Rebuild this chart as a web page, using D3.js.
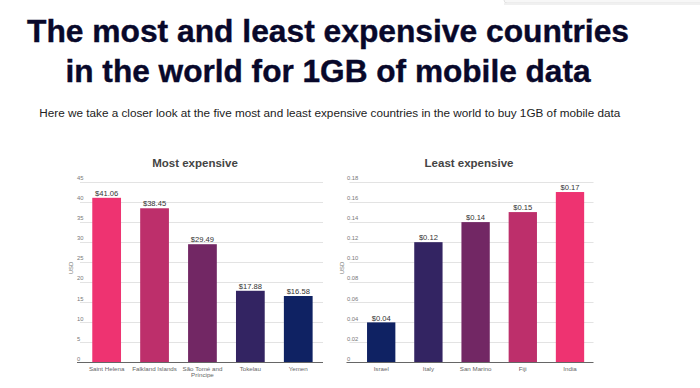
<!DOCTYPE html>
<html>
<head>
<meta charset="utf-8">
<script src="https://cdn.jsdelivr.net/npm/d3@7"></script>
<style>
    html, body { margin: 0; padding: 0; background: #fff; }
    svg { display: block; font-family: 'Liberation Sans', Arial, sans-serif; }
</style>
</head>
<body>
<svg id="chart" width="700" height="388"></svg>
<script>
const titleLines = [`The most and least expensive countries`, `in the world for 1GB of mobile data`];
const subtitle = `Here we take a closer look at the five most and least expensive countries in the world to buy 1GB of mobile data`;

const mostCountries = [`Saint Helena`, `Falkland Islands`, `São Tomé and|Príncipe`, `Tokelau`, `Yemen`];
const mostValues = [41.06, 38.45, 29.49, 17.88, 16.58];
const mostTicks = [0, 5, 10, 15, 20, 25, 30, 35, 40, 45];
const mostTickLabels = [`0`, `5`, `10`, `15`, `20`, `25`, `30`, `35`, `40`, `45`];

const leastCountries = [`Israel`, `Italy`, `San Marino`, `Fiji`, `India`];
const leastValues = [0.04, 0.12, 0.14, 0.15, 0.17];
const leastTicks = [0, 0.02, 0.04, 0.06, 0.08, 0.10, 0.12, 0.14, 0.16, 0.18];
const leastTickLabels = [`0`, `0.02`, `0.04`, `0.06`, `0.08`, `0.10`, `0.12`, `0.14`, `0.16`, `0.18`];

const palette = [`#ee3371`, `#bd2f6b`, `#722764`, `#332462`, `#0f2263`];

const svg = d3.select(`#chart`);

// faint box at top right
svg.append(`rect`)
    .attr(`x`, 504).attr(`y`, -20)
    .attr(`width`, 220).attr(`height`, 23)
    .attr(`rx`, 3)
    .attr(`fill`, `#f7f7f7`)
    .attr(`stroke`, `#e2e2e2`);
svg.append(`rect`)
    .attr(`x`, 504).attr(`y`, 3)
    .attr(`width`, 200).attr(`height`, 2)
    .attr(`fill`, `#f0f0f0`);
svg.append(`rect`)
    .attr(`x`, 588).attr(`y`, 18.5)
    .attr(`width`, 5).attr(`height`, 1.5)
    .attr(`fill`, `#999`);

// title
svg.selectAll(`.title`)
    .data(titleLines)
    .enter()
    .append(`text`)
    .attr(`class`, `title`)
    .attr(`x`, 328)
    .attr(`y`, (d, i) => 41.5 + i * 40)
    .attr(`text-anchor`, `middle`)
    .attr(`font-size`, 31)
    .attr(`font-weight`, `bold`)
    .attr(`fill`, `#08082a`)
    .attr(`stroke`, `#08082a`)
    .attr(`stroke-width`, 0.4)
    .attr(`textLength`, (d, i) => i === 0 ? 602 : 525)
    .attr(`lengthAdjust`, `spacingAndGlyphs`)
    .text(d => d);

svg.append(`text`)
    .attr(`x`, 329.8)
    .attr(`y`, 116.5)
    .attr(`text-anchor`, `middle`)
    .attr(`font-size`, 10)
    .attr(`fill`, `#222`)
    .attr(`textLength`, 581)
    .attr(`lengthAdjust`, `spacingAndGlyphs`)
    .text(subtitle);

const drawChart = (opts) => {
    const g = svg.append(`g`);

    const y = d3.scaleLinear()
        .domain([0, opts.ticks[opts.ticks.length - 1]])
        .range([362.5, 182]);

    const x = d3.scaleBand()
        .domain(opts.countries)
        .range(opts.bandRange)
        .paddingInner(0.4)
        .paddingOuter(0.2);

    g.append(`text`)
        .attr(`x`, opts.titleX)
        .attr(`y`, 166.5)
        .attr(`text-anchor`, `middle`)
        .attr(`font-size`, 11.5)
        .attr(`font-weight`, `bold`)
        .attr(`fill`, `#444`)
        .text(opts.title);

    // gridlines
    g.selectAll(`.grid`)
        .data(opts.ticks.slice(1))
        .enter()
        .append(`line`)
        .attr(`x1`, opts.gridRange[0])
        .attr(`x2`, opts.gridRange[1])
        .attr(`y1`, d => Math.round(y(d)) + 0.5)
        .attr(`y2`, d => Math.round(y(d)) + 0.5)
        .attr(`stroke`, `#e3e3e3`)
        .attr(`stroke-width`, 1);

    // tick labels sit above their gridline, left aligned
    g.selectAll(`.tick-label`)
        .data(opts.ticks)
        .enter()
        .append(`text`)
        .attr(`x`, opts.labelX)
        .attr(`y`, d => y(d) - 1.8)
        .attr(`font-size`, 5.8)
        .attr(`fill`, `#777`)
        .text((d, i) => opts.tickLabels[i]);

    g.append(`text`)
        .attr(`transform`, `translate(${opts.usdX}, 268) rotate(-90)`)
        .attr(`text-anchor`, `middle`)
        .attr(`font-size`, 6)
        .attr(`fill`, `#777`)
        .text(`USD`);

    g.selectAll(`.bar`)
        .data(opts.values)
        .enter()
        .append(`rect`)
        .attr(`x`, (d, i) => x(opts.countries[i]))
        .attr(`y`, d => y(d))
        .attr(`width`, x.bandwidth())
        .attr(`height`, d => y(0) - y(d))
        .attr(`fill`, (d, i) => opts.colors[i]);

    g.selectAll(`.value`)
        .data(opts.values)
        .enter()
        .append(`text`)
        .attr(`x`, (d, i) => x(opts.countries[i]) + x.bandwidth() / 2)
        .attr(`y`, d => y(d) - 1.8)
        .attr(`text-anchor`, `middle`)
        .attr(`font-size`, 7.6)
        .attr(`fill`, `#333`)
        .text(d => `$${d.toFixed(2)}`);

    // x axis baseline
    g.append(`line`)
        .attr(`x1`, opts.gridRange[0] - 3)
        .attr(`x2`, opts.gridRange[1])
        .attr(`y1`, 362.5)
        .attr(`y2`, 362.5)
        .attr(`stroke`, `#666`)
        .attr(`stroke-width`, 1);

    const xLabels = g.selectAll(`.x-label`)
        .data(opts.countries)
        .enter()
        .append(`text`)
        .attr(`x`, d => x(d) + x.bandwidth() / 2)
        .attr(`y`, 370.5)
        .attr(`text-anchor`, `middle`)
        .attr(`font-size`, 6.2)
        .attr(`fill`, `#666`);

    xLabels.selectAll(`tspan`)
        .data(d => d.split(`|`).map(line => ({ line, cx: x(d) + x.bandwidth() / 2 })))
        .enter()
        .append(`tspan`)
        .attr(`x`, d => d.cx)
        .attr(`dy`, (d, i) => i === 0 ? 0 : 6.5)
        .text(d => d.line);
};

drawChart({
    title: `Most expensive`,
    titleX: 195,
    countries: mostCountries,
    values: mostValues,
    ticks: mostTicks,
    tickLabels: mostTickLabels,
    colors: palette,
    bandRange: [82.7, 322.2],
    gridRange: [80, 323],
    labelX: 77,
    usdX: 72.5,
});

drawChart({
    title: `Least expensive`,
    titleX: 469,
    countries: leastCountries,
    values: leastValues,
    ticks: leastTicks,
    tickLabels: leastTickLabels,
    colors: palette.slice().reverse(),
    bandRange: [357.6, 593.6],
    gridRange: [349.5, 593.5],
    labelX: 347,
    usdX: 343.5,
});
</script>
</body>
</html>
